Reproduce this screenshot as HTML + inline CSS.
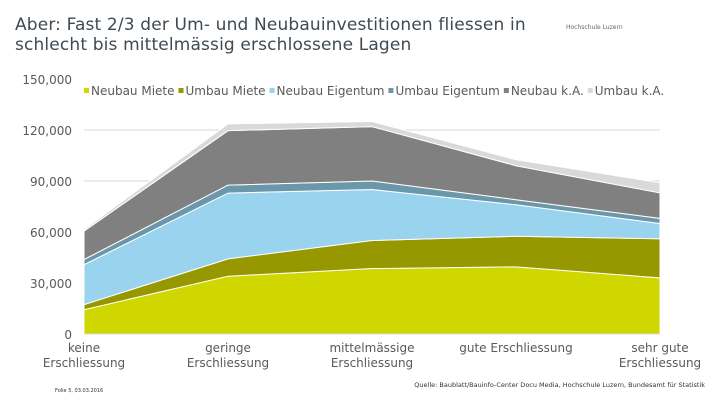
<!DOCTYPE html>
<html><head><meta charset="utf-8">
<style>
body{margin:0;background:#fff;width:720px;height:405px;overflow:hidden;position:relative;font-family:"DejaVu Sans","Liberation Sans",sans-serif}
#title{position:absolute;left:15px;top:15px;font-size:17px;line-height:20px;color:#3f4a52;letter-spacing:0.15px}
#logo{position:absolute;left:566px;top:24px;font-size:6px;color:#666}
svg{position:absolute;left:0;top:0}
</style></head><body>
<div id="title">Aber: Fast 2/3 der Um- und Neubauinvestitionen fliessen in<br>schlecht bis mittelmässig erschlossene Lagen</div>
<div id="logo">Hochschule Luzern</div>
<svg id="chart" width="720" height="405"></svg>
<script>
const categories=[["keine","Erschliessung"],["geringe","Erschliessung"],["mittelmässige","Erschliessung"],["gute Erschliessung"],["sehr gute","Erschliessung"]];
const seriesNames=["Neubau Miete","Umbau Miete","Neubau Eigentum","Umbau Eigentum","Neubau k.A.","Umbau k.A."];
const neubauMiete=[14300,34000,38500,39500,33000];
const umbauMiete=[3000,10200,16500,18000,23000];
const neubauEigentum=[23500,38700,30000,18500,9000];
const umbauEigentum=[3000,4700,5000,3000,3000];
const neubauKA=[16700,32000,32000,20000,15000];
const umbauKA=[1000,4000,3000,3500,6000];
const yTicks=[0,30000,60000,90000,120000,150000];
const series=[neubauMiete,umbauMiete,neubauEigentum,umbauEigentum,neubauKA,umbauKA];
const colors=["#cfd600","#979800","#9ad3ee","#6a98aa","#808080","#d9d9d9"];
const NS="http://www.w3.org/2000/svg";
const svg=document.getElementById('chart');
const x0=84,x1=660,yb=334,yt=79;
const X=i=>x0+i*(x1-x0)/(categories.length-1);
const Y=v=>yb-(v/150000)*(yb-yt);
function mk(t,a){const e=document.createElementNS(NS,t);for(const k in a)e.setAttribute(k,a[k]);svg.appendChild(e);return e;}
yTicks.forEach(t=>{
  if(t>0&&t<150000){const l=mk('line',{x1:x0,x2:x1,y1:Y(t),y2:Y(t),stroke:'#d9d9d9','stroke-width':1});
  
  }
  const tx=mk('text',{x:72,y:Y(t)+5,'text-anchor':'end','font-size':12,fill:'#595959','font-family':'DejaVu Sans, sans-serif'});
  tx.textContent=t.toLocaleString('en-US');
  
  
});
let base=categories.map(()=>0);
series.forEach((s,si)=>{
  const top=base.map((b,i)=>b+s[i]);
  let d='M'+top.map((v,i)=>X(i)+','+Y(v)).join(' L');
  for(let i=base.length-1;i>=0;i--)d+=' L'+X(i)+','+Y(base[i]);
  d+='Z';
  const p=mk('path',{d:d,fill:colors[si],stroke:'#fff','stroke-width':1});
  
  
  base=top;
});
mk('line',{x1:x0,x2:x1,y1:yb,y2:yb,stroke:'#d9d9d9'});
categories.forEach((c,i)=>{
  c.forEach((ln,j)=>{
    const t=mk('text',{x:X(i),y:352+j*15,'text-anchor':'middle','font-size':12,fill:'#595959','font-family':'DejaVu Sans, sans-serif'});
    t.textContent=ln;
    
    
  });
});
let lx=84;
seriesNames.forEach((n,i)=>{
  const r=mk('rect',{x:lx,y:88,width:5,height:5,fill:colors[i]});
  
  
  const t=mk('text',{x:lx+7,y:95,'font-size':12,fill:'#595959','font-family':'DejaVu Sans, sans-serif'});
  t.textContent=n;
  
  
  lx+=t.getComputedTextLength()+11;
});
const q=mk('text',{x:705,y:387,'text-anchor':'end','font-size':6.5,fill:'#333','font-family':'DejaVu Sans, sans-serif'});
q.textContent='Quelle: Baublatt/Bauinfo-Center Docu Media, Hochschule Luzern, Bundesamt für Statistik';


const dt=mk('text',{x:55,y:392,'font-size':5,fill:'#333','font-family':'DejaVu Sans, sans-serif'});
dt.textContent='Folie  5, 03.03.2016';


</script>
</body></html>
